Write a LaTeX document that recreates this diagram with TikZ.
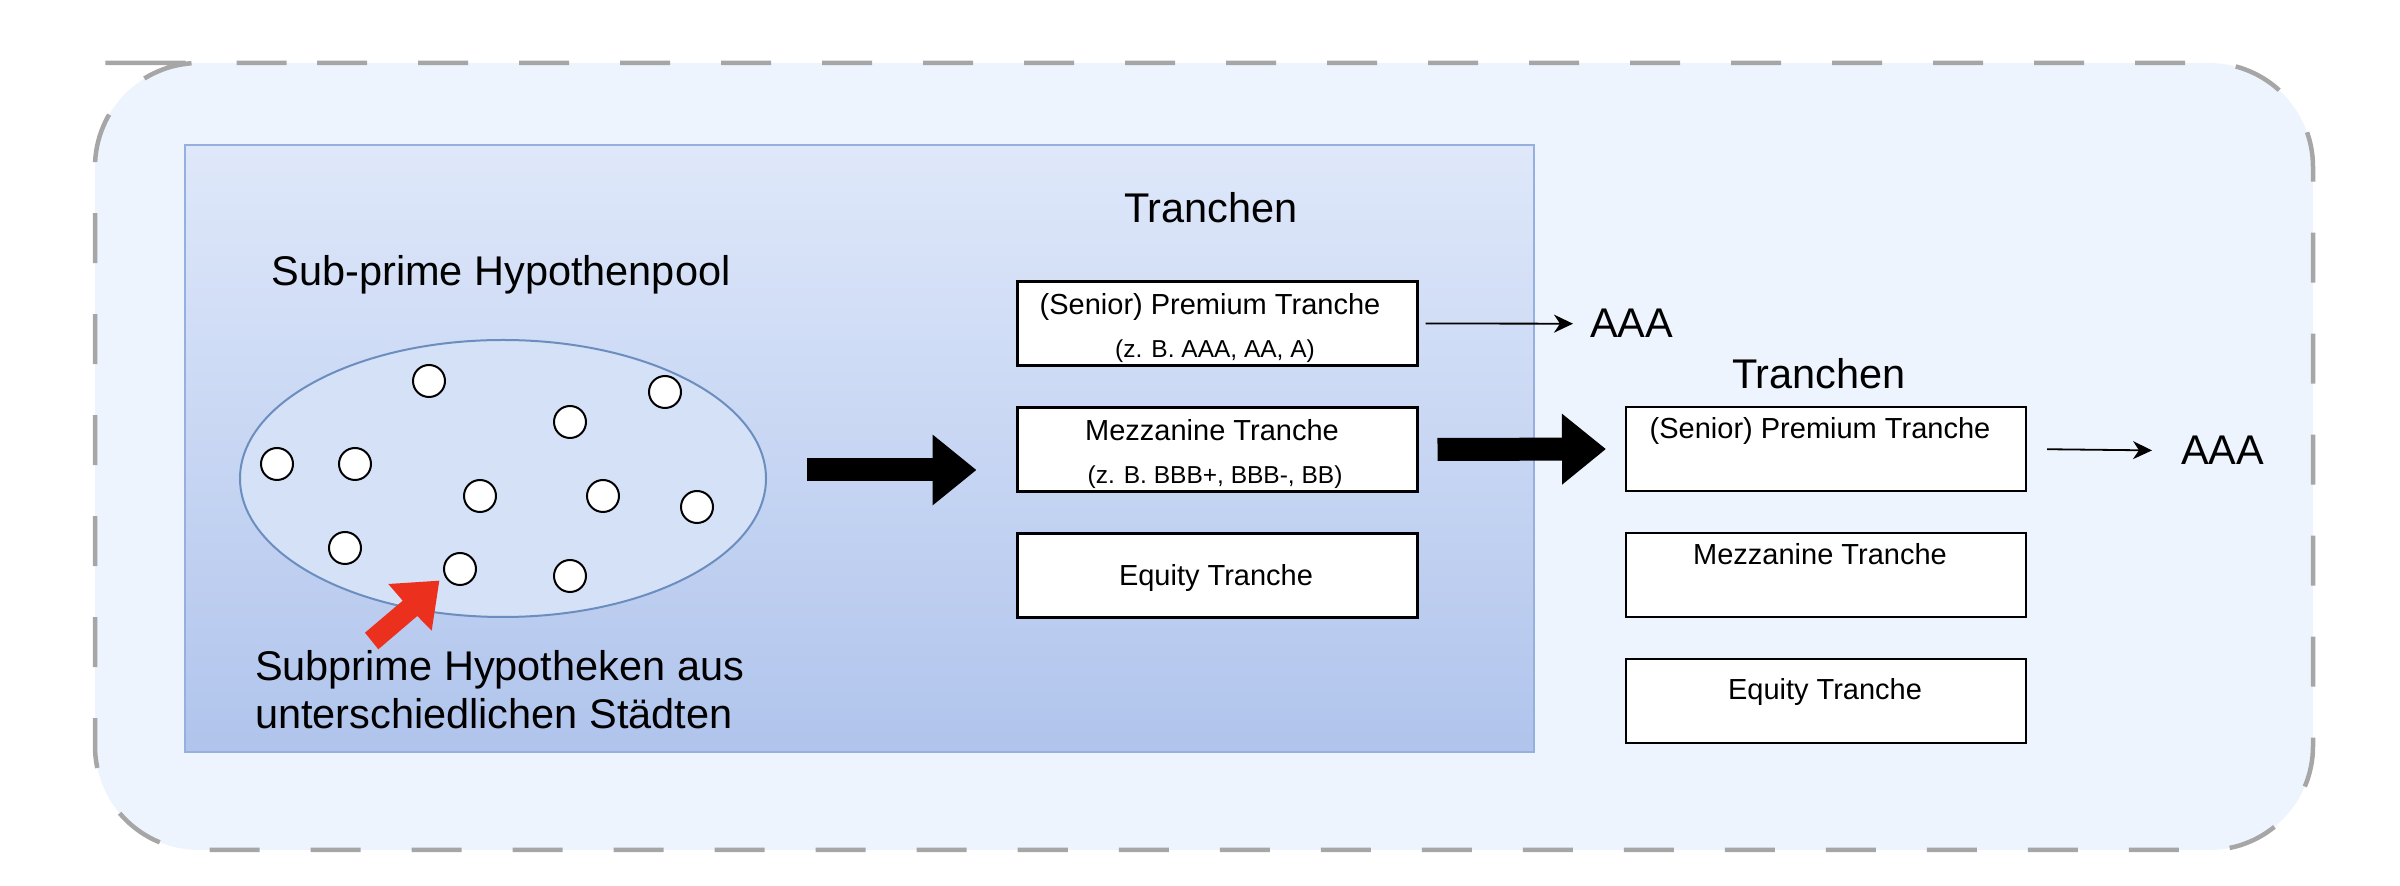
\documentclass[tikz,border=0pt]{standalone}
\usepackage{fontspec}
\setmainfont{Liberation Sans}
\usetikzlibrary{arrows.meta,shapes.geometric}
\definecolor{outerfill}{RGB}{238,244,254}
\definecolor{outerdash}{RGB}{166,166,166}
\definecolor{gradtop}{RGB}{223,232,250}
\definecolor{gradbot}{RGB}{176,196,236}
\definecolor{innerborder}{RGB}{150,175,222}
\definecolor{ellfill}{RGB}{213,225,247}
\definecolor{ellborder}{RGB}{108,142,191}
\definecolor{redarrow}{RGB}{236,48,30}
\begin{document}
\begin{tikzpicture}[x=0.5pt,y=-0.5pt,
  every node/.style={inner sep=0pt, outer sep=0pt},
  bigtxt/.style={font=\fontsize{20.75pt}{24pt}\selectfont, anchor=base},
  boxtxt/.style={font=\fontsize{14.5pt}{17pt}\selectfont, anchor=base},
  subtxt/.style={font=\fontsize{12.25pt}{15pt}\selectfont, anchor=base},
  tbox/.style={draw=black, line width=1.25pt, fill=white, minimum width=200pt, minimum height=42pt},
  coin/.style={circle, draw=black, line width=1pt, fill=white, minimum size=16pt},
  bigarrow/.style={line width=11.5pt, -{Triangle[length=22pt, width=34pt]}},
  thinarrow/.style={line width=0.9pt, -{Stealth[length=9.5pt, width=9pt, inset=3pt]}},
  outerbox/.style={rounded corners=52pt},
]
\useasboundingbox (0,0) rectangle (2400,886);
% outer dashed container
\path[outerbox, fill=outerfill] (199,63) -- (2313,63) -- (2313,850) -- (95,850) -- (95,63) -- cycle;
\draw[outerbox, draw=outerdash, line width=2.25pt, dash pattern=on 25pt off 25.5pt, dash phase=43.5pt]
  (199,63) -- (2313,63) -- (2313,850) -- (95,850) -- (95,63) -- cycle;
% inner gradient panel
\shade[top color=gradtop, bottom color=gradbot] (185,145) rectangle (1534,752);
\draw[innerborder, line width=1pt] (185,145) rectangle (1534,752);
% pool
\node[ellipse, draw=ellborder, fill=ellfill, line width=1pt, minimum width=263pt, minimum height=138.5pt] (pool) at (503,478.5) {};
\node[coin] (c1) at (429,381) {};
\node[coin] (c2) at (665,392) {};
\node[coin] (c3) at (570,422) {};
\node[coin] (c4) at (277,464) {};
\node[coin] (c5) at (355,464) {};
\node[coin] (c6) at (480,496) {};
\node[coin] (c7) at (603,496) {};
\node[coin] (c8) at (697,507) {};
\node[coin] (c9) at (345,548) {};
\node[coin] (c10) at (460,569) {};
\node[coin] (c11) at (570,576) {};
% red arrow
\fill[redarrow] (365,632.7) -- (402.7,600.7) -- (388.3,584) -- (439.3,580.7) -- (431.7,630.7) -- (417.3,616) -- (378.3,649.3) -- cycle;
% titles
\node[bigtxt] (pooltitle) at (501,286) {Sub-prime Hypothenpool};
\node[bigtxt, align=left, anchor=base west] (subtxt) at (255,729) {Subprime Hypotheken aus\\unterschiedlichen Städten};
\node[bigtxt] (tr1) at (1211,223) {Tranchen};
\node[bigtxt] (tr2) at (1819,389) {Tranchen};
% left tranche boxes
\node[tbox] (sL) at (1217.5,323.5) {};
\node[tbox] (mL) at (1217.5,449.5) {};
\node[tbox] (eL) at (1217.5,575.5) {};
\node[boxtxt] (sLa) at (1210,315) {(Senior) Premium Tranche};
\node[subtxt] (sLb) at (1215,358) {(z. B. AAA, AA, A)};
\node[boxtxt] (mLa) at (1212,441) {Mezzanine Tranche};
\node[subtxt] (mLb) at (1215,484) {(z. B. BBB+, BBB-, BB)};
\node[boxtxt] (eLa) at (1216,585.5) {Equity Tranche};
% right tranche boxes
\node[tbox] (sR) at (1826,449) {};
\node[tbox] (mR) at (1826,575) {};
\node[tbox] (eR) at (1826,701) {};
\node[boxtxt] (sRa) at (1820,439) {(Senior) Premium Tranche};
\node[boxtxt] (mRa) at (1820,564.5) {Mezzanine Tranche};
\node[boxtxt] (eRa) at (1825,700) {Equity Tranche};
% ratings
\node[bigtxt, anchor=base west] (aaa1) at (1590,338) {AAA};
\node[bigtxt, anchor=base west] (aaa2) at (2181,465) {AAA};
% arrows
\coordinate (yone) at (0,470);
\draw[bigarrow, shorten <=20.5pt, shorten >=20.5pt] (pool.east |- yone) -- (mL.west |- yone);
\draw[bigarrow, shorten <=10pt, shorten >=10pt] (mL.east) -- (sR.west);
\draw[thinarrow, shorten <=4pt, shorten >=8.5pt] (sL.east) -- (aaa1.west);
\draw[thinarrow, shorten <=10.5pt, shorten >=14.5pt] (sR.east) -- (aaa2.west);
\end{tikzpicture}
\end{document}
